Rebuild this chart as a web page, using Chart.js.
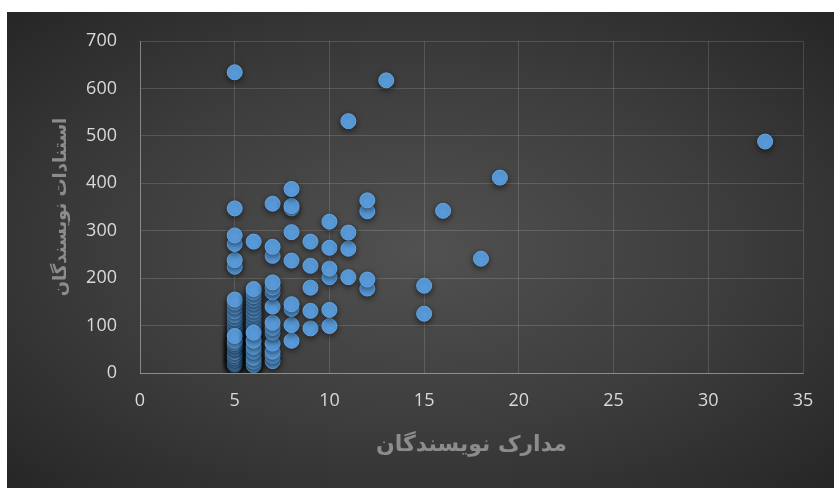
<!DOCTYPE html>
<html>
<head>
<meta charset="utf-8">
<script src="https://cdn.jsdelivr.net/npm/chart.js@4/dist/chart.umd.min.js"></script>
<style>
  html, body { margin: 0; padding: 0; background: #fff; }
  #box {
    position: absolute; left: 7px; top: 12px; width: 827px; height: 476px;
    background: radial-gradient(ellipse at 50% 50%, #515151 0%, #3c3c3c 55%, #262626 100%);
  }
</style>
</head>
<body>
<div id="box"><canvas id="scatterChart" width="827" height="476"></canvas></div>
<script>
// x: number of documents per author, y: citations per author
var docs = [
  5, 5, 5, 5, 5, 5, 5, 5, 5, 5, 5, 5, 5, 5, 5, 5, 5, 5, 5, 5, 5, 5, 5, 5, 5,
  5, 5, 5, 5, 5, 5, 5, 5, 5, 5, 5,
  5, 5, 5, 5, 5, 5,
  6, 6, 6, 6, 6, 6, 6, 6, 6, 6, 6, 6, 6, 6, 6, 6, 6, 6, 6, 6, 6, 6, 6,
  6, 6, 6, 6, 6, 6, 6,
  6,
  7, 7, 7, 7, 7, 7, 7, 7, 7, 7, 7, 7, 7, 7,
  8, 8, 8, 8, 8, 8, 8, 8, 8,
  9, 9, 9, 9, 9,
  10, 10, 10, 10, 10, 10,
  11, 11, 11, 11,
  12, 12, 12, 12,
  13, 15, 15, 16, 18, 19, 33
];
var citations = [
  15, 20, 25, 30, 35, 40, 45, 50, 55, 60, 65, 70, 75, 80, 85, 90, 95, 100, 108, 115, 122, 130, 140, 148, 155,
  18, 22, 28, 33, 38, 44, 52, 58, 63, 68, 78,
  224, 238, 272, 290, 347, 634,
  15, 20, 28, 35, 42, 50, 58, 65, 72, 80, 88, 95, 102, 110, 118, 125, 132, 140, 148, 155, 162, 170, 177,
  17, 24, 32, 45, 55, 68, 85,
  277,
  25, 36, 45, 62, 85, 95, 106, 140, 170, 180, 191, 247, 266, 357,
  68, 101, 135, 145, 237, 297, 347, 352, 388,
  94, 131, 180, 226, 277,
  99, 133, 202, 220, 264, 319,
  202, 262, 296, 531,
  178, 197, 341, 364,
  617, 125, 184, 342, 241, 412, 488
];

var xTitle = 'مدارک نویسندگان';
var yTitle = 'استنادات نویسندگان';

var points = docs.map(function (d, i) { return { x: d, y: citations[i] }; });

var shadowPlugin = {
  id: 'pointShadow',
  beforeDatasetDraw: function (chart) {
    var c = chart.ctx;
    c.save();
    c.shadowColor = 'rgba(0,0,0,0.55)';
    c.shadowBlur = 6;
    c.shadowOffsetX = 0;
    c.shadowOffsetY = 2;
  },
  afterDatasetDraw: function (chart) {
    chart.ctx.restore();
  }
};

var ctx = document.getElementById('scatterChart').getContext('2d');

new Chart(ctx, {
  type: 'scatter',
  data: {
    datasets: [
      {
        data: points,
        backgroundColor: '#5b9fe0',
        borderColor: '#64a6e3',
        borderWidth: 1,
        pointRadius: 7.5,
        pointHoverRadius: 7.5
      }
    ]
  },
  options: {
    responsive: false,
    animation: false,
    layout: { padding: { top: 29, right: 31, bottom: 0, left: 0 } },
    plugins: { legend: { display: false }, tooltip: { enabled: false } },
    scales: {
      x: {
        type: 'linear',
        min: 0,
        max: 35,
        afterFit: function (s) { s.height = 115; },
        ticks: {
          stepSize: 5,
          padding: 17,
          color: '#d9d9d9',
          font: { family: 'Open Sans', size: 18 }
        },
        grid: { color: 'rgba(255,255,255,0.14)', drawTicks: false },
        border: { color: 'rgba(255,255,255,0.3)' },
        title: {
          display: true,
          text: xTitle,
          color: '#8c8c8c',
          font: { family: 'DejaVu Sans', size: 22, weight: 'bold' },
          padding: { bottom: 30 }
        }
      },
      y: {
        min: 0,
        max: 700,
        afterFit: function (s) {
          s.width = 133;
          s.paddingTop = 0;
          s.paddingBottom = 0;
        },
        ticks: {
          stepSize: 100,
          padding: 23,
          color: '#d9d9d9',
          font: { family: 'Open Sans', size: 18 }
        },
        grid: { color: 'rgba(255,255,255,0.14)', drawTicks: false },
        border: { color: 'rgba(255,255,255,0.3)' },
        title: {
          display: true,
          text: yTitle,
          color: '#8c8c8c',
          font: { family: 'DejaVu Sans', size: 18, weight: 'bold' },
          padding: { top: 44 }
        }
      }
    }
  },
  plugins: [shadowPlugin]
});
</script>
</body>
</html>
